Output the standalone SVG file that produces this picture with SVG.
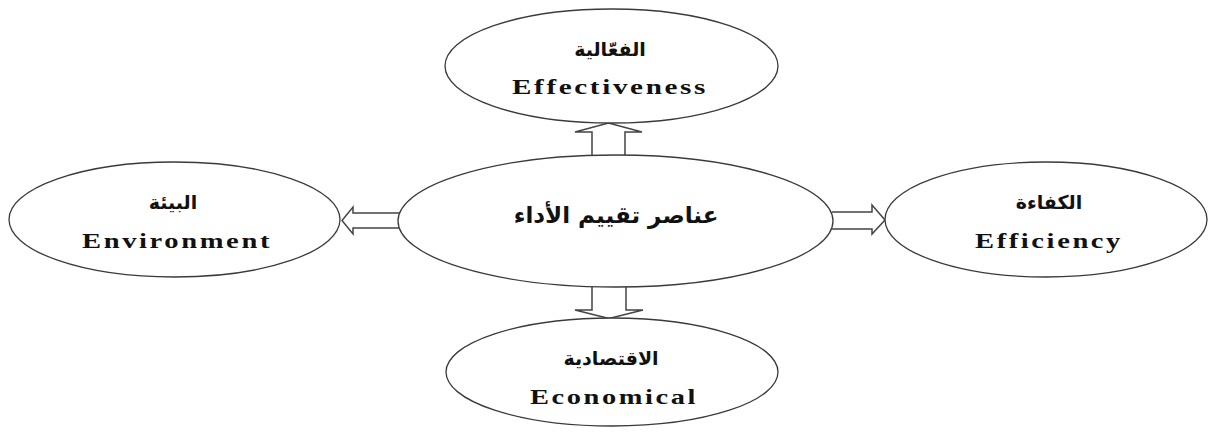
<svg xmlns="http://www.w3.org/2000/svg" width="1212" height="432" viewBox="0 0 1212 432">
<style>
.node ellipse{fill:#fff;stroke:#3a3a3a;stroke-width:1.3}
.ar{font-family:"DejaVu Sans","Noto Sans",sans-serif;font-weight:bold;font-size:19px;fill:#111;text-anchor:middle}
.en{font-family:"Liberation Serif","Times New Roman",serif;font-weight:bold;font-size:22px;letter-spacing:2px;fill:#111;text-anchor:middle}
.conn path{fill:#fff;stroke:#444;stroke-width:1.5;stroke-linejoin:miter}
</style>
<rect width="1212" height="432" fill="#fff"/>
<g class="conn" id="connectors">
<path d="M592,156 L592,132 L575,132 L608.5,123 L642,132 L625,132 L625,156"/>
<path d="M592,286 L592,310 L575,310 L609,318.5 L643,310 L626,310 L626,286"/>
<path d="M399,213 L353,213 L353,207 L342,220.5 L353,234 L353,228 L399,228"/>
<path d="M832,212 L872,212 L872,205 L885,220 L872,234 L872,229 L832,229"/>
</g>
<g class="node" id="center">
<ellipse cx="615.5" cy="221" rx="217.5" ry="66"/>
<text class="ar" x="616" y="223" style="font-size:23px" direction="rtl">عناصر تقييم الأداء</text>
</g>
<g class="node" id="effectiveness">
<ellipse cx="611.5" cy="66" rx="166.5" ry="57"/>
<text class="ar" x="610" y="56" direction="rtl">الفعّالية</text>
<text class="en" x="610" y="94" textLength="196" lengthAdjust="spacingAndGlyphs">Effectiveness</text>
</g>
<g class="node" id="environment">
<ellipse cx="174.5" cy="219.5" rx="165.5" ry="57.5"/>
<text class="ar" x="173" y="209" direction="rtl">البيئة</text>
<text class="en" x="177" y="248" textLength="190" lengthAdjust="spacingAndGlyphs">Environment</text>
</g>
<g class="node" id="efficiency">
<ellipse cx="1046" cy="219.5" rx="161" ry="57.5"/>
<text class="ar" x="1049" y="209" direction="rtl">الكفاءة</text>
<text class="en" x="1049" y="248" textLength="148" lengthAdjust="spacingAndGlyphs">Efficiency</text>
</g>
<g class="node" id="economical">
<ellipse cx="612" cy="372" rx="166" ry="54"/>
<text class="ar" x="611" y="365" direction="rtl">الاقتصادية</text>
<text class="en" x="614" y="404" textLength="168" lengthAdjust="spacingAndGlyphs">Economical</text>
</g>
</svg>
